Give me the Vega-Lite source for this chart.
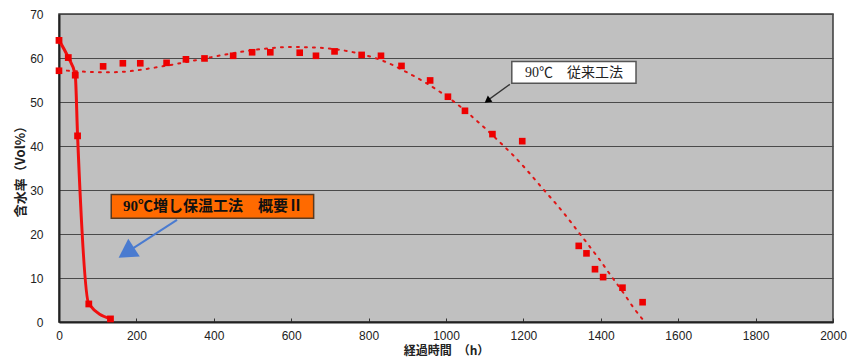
{
  "$schema": "https://vega.github.io/schema/vega-lite/v6.json",
  "width": 774,
  "height": 308,
  "autosize": {"type": "none"},
  "padding": {"left": 59, "top": 14, "right": 14, "bottom": 36},
  "background": "white",
  "config": {
    "view": {"fill": "#c0c0c0", "stroke": "#3a3a3a", "strokeWidth": 1.5},
    "axis": {
      "labelFont": "Liberation Sans",
      "labelFontSize": 12,
      "labelColor": "#222222",
      "titleFont": "Noto Sans CJK JP",
      "titleFontSize": 13,
      "titleFontWeight": "bold",
      "titleColor": "#222222",
      "domainColor": "#222222",
      "domainWidth": 2,
      "labelFlush": false,
      "labelOverlap": false
    }
  },
  "datasets": {
    "meas": [
      {"h": 0, "w": 57.1}, {"h": 114, "w": 58.1}, {"h": 165, "w": 58.8}, {"h": 210, "w": 58.8},
      {"h": 278, "w": 58.9}, {"h": 328, "w": 59.7}, {"h": 376, "w": 59.9}, {"h": 450, "w": 60.5},
      {"h": 499, "w": 61.3}, {"h": 546, "w": 61.3}, {"h": 622, "w": 61.2}, {"h": 664, "w": 60.5},
      {"h": 712, "w": 61.5}, {"h": 782, "w": 60.7}, {"h": 832, "w": 60.5}, {"h": 885, "w": 58.2},
      {"h": 959, "w": 54.9}, {"h": 1005, "w": 51.2}, {"h": 1049, "w": 48.0}, {"h": 1120, "w": 42.7},
      {"h": 1197, "w": 41.1}, {"h": 1343, "w": 17.3}, {"h": 1363, "w": 15.6}, {"h": 1385, "w": 12.0},
      {"h": 1406, "w": 10.2}, {"h": 1456, "w": 7.8}, {"h": 1508, "w": 4.5}
    ],
    "trend": [
      {"h": 0, "w": 57.3}, {"h": 40, "w": 57.0}, {"h": 80, "w": 56.85}, {"h": 124, "w": 56.75},
      {"h": 170, "w": 56.9}, {"h": 210, "w": 57.3}, {"h": 253, "w": 57.9}, {"h": 300, "w": 58.6},
      {"h": 365, "w": 59.7}, {"h": 450, "w": 61.1}, {"h": 520, "w": 62.0}, {"h": 600, "w": 62.5},
      {"h": 660, "w": 62.4}, {"h": 730, "w": 61.8}, {"h": 780, "w": 60.9}, {"h": 830, "w": 59.6},
      {"h": 855, "w": 58.7}, {"h": 900, "w": 56.7}, {"h": 945, "w": 54.5}, {"h": 988, "w": 52.1},
      {"h": 1026, "w": 49.7}, {"h": 1080, "w": 45.7}, {"h": 1110, "w": 43.3}, {"h": 1148, "w": 40.1},
      {"h": 1179, "w": 37.4}, {"h": 1209, "w": 34.5}, {"h": 1252, "w": 30.1}, {"h": 1283, "w": 27.0},
      {"h": 1313, "w": 23.8}, {"h": 1340, "w": 20.7}, {"h": 1369, "w": 17.4}, {"h": 1395, "w": 14.4},
      {"h": 1420, "w": 11.3}, {"h": 1461, "w": 6.3}, {"h": 1485, "w": 3.2}, {"h": 1513, "w": 0.1}
    ],
    "fast": [
      {"h": 0, "w": 64.0}, {"h": 24, "w": 60.1}, {"h": 42, "w": 56.1}, {"h": 48, "w": 42.3},
      {"h": 77, "w": 4.1}, {"h": 133, "w": 0.7}
    ],
    "boxes": [
      {"name": "old", "h": 1170, "h2": 1491, "w": 59.2, "w2": 54.25},
      {"name": "new", "h": 135, "h2": 658, "w": 29.0, "w2": 23.6}
    ],
    "boxtext": [
      {"name": "old", "h": 1331, "w": 56.7, "label": "90℃　従来工法"},
      {"name": "new", "h": 398, "w": 26.3, "label": "90℃増し保温工法　概要Ⅱ"}
    ],
    "blackarrow": [{"h": 1165, "w": 54.0, "h2": 1105, "w2": 50.2}],
    "blackhead": [{"h": 1107, "w": 50.3}],
    "bluearrow": [{"h": 305, "w": 23.2, "h2": 176, "w2": 15.9}],
    "bluehead": [{"h": 174, "w": 15.75}]
  },
  "encoding": {
    "x": {
      "field": "h",
      "type": "quantitative",
      "scale": {"domain": [0, 2000], "nice": false, "zero": false},
      "axis": {
        "title": "経過時間　（h）",
        "titleFontSize": 12,
        "values": [0, 200, 400, 600, 800, 1000, 1200, 1400, 1600, 1800, 2000],
        "format": "d",
        "grid": false,
        "ticks": true,
        "tickSize": -4,
        "tickWidth": 1,
        "tickColor": "#333333",
        "labelPadding": 12,
        "titlePadding": 4
      }
    },
    "y": {
      "field": "w",
      "type": "quantitative",
      "scale": {"domain": [0, 70], "nice": false, "zero": false},
      "axis": {
        "title": "含水率（Vol%）",
        "values": [0, 10, 20, 30, 40, 50, 60, 70],
        "format": "d",
        "grid": true,
        "gridColor": "#4a4a4a",
        "gridWidth": 1,
        "ticks": false,
        "labelPadding": 16,
        "titlePadding": 2
      }
    }
  },
  "layer": [
    {
      "data": {"name": "trend"},
      "mark": {"type": "line", "interpolate": "monotone", "color": "#e01515", "strokeWidth": 2, "strokeDash": [2, 6], "strokeCap": "round"}
    },
    {
      "data": {"name": "meas"},
      "mark": {"type": "point", "shape": "square", "filled": true, "size": 44, "color": "#ee0000", "opacity": 1}
    },
    {
      "data": {"name": "fast"},
      "mark": {"type": "line", "interpolate": "monotone", "color": "#f01010", "strokeWidth": 3}
    },
    {
      "data": {"name": "fast"},
      "mark": {"type": "point", "shape": "square", "filled": true, "size": 46, "color": "#ee0000", "opacity": 1}
    },
    {
      "data": {"name": "boxes"},
      "transform": [{"filter": "datum.name === 'old'"}],
      "mark": {"type": "rect", "fill": "white", "stroke": "#555555", "strokeWidth": 1.5},
      "encoding": {"x2": {"field": "h2"}, "y2": {"field": "w2"}}
    },
    {
      "data": {"name": "boxes"},
      "transform": [{"filter": "datum.name === 'new'"}],
      "mark": {"type": "rect", "fill": "#ff6a00", "stroke": "#5a3a20", "strokeWidth": 1.5},
      "encoding": {"x2": {"field": "h2"}, "y2": {"field": "w2"}}
    },
    {
      "data": {"name": "boxtext"},
      "transform": [{"filter": "datum.name === 'old'"}],
      "mark": {"type": "text", "font": "Liberation Serif, Noto Sans CJK JP", "fontSize": 14, "color": "#222222", "align": "center", "baseline": "middle"},
      "encoding": {"text": {"field": "label"}}
    },
    {
      "data": {"name": "boxtext"},
      "transform": [{"filter": "datum.name === 'new'"}],
      "mark": {"type": "text", "font": "Liberation Serif, Noto Sans CJK JP", "fontSize": 15, "fontWeight": "bold", "color": "#111111", "align": "center", "baseline": "middle"},
      "encoding": {"text": {"field": "label"}}
    },
    {
      "data": {"name": "blackarrow"},
      "mark": {"type": "rule", "color": "#333333", "strokeWidth": 1.3},
      "encoding": {"x2": {"field": "h2"}, "y2": {"field": "w2"}}
    },
    {
      "data": {"name": "blackhead"},
      "mark": {"type": "point", "shape": "triangle-up", "filled": true, "size": 60, "color": "#000000", "opacity": 1, "angle": 234}
    },
    {
      "data": {"name": "bluearrow"},
      "mark": {"type": "rule", "color": "#4a7bd0", "strokeWidth": 2},
      "encoding": {"x2": {"field": "h2"}, "y2": {"field": "w2"}}
    },
    {
      "data": {"name": "bluehead"},
      "mark": {"type": "point", "shape": "triangle-up", "filled": true, "size": 450, "color": "#4a7bd0", "opacity": 1, "angle": 237}
    }
  ]
}
